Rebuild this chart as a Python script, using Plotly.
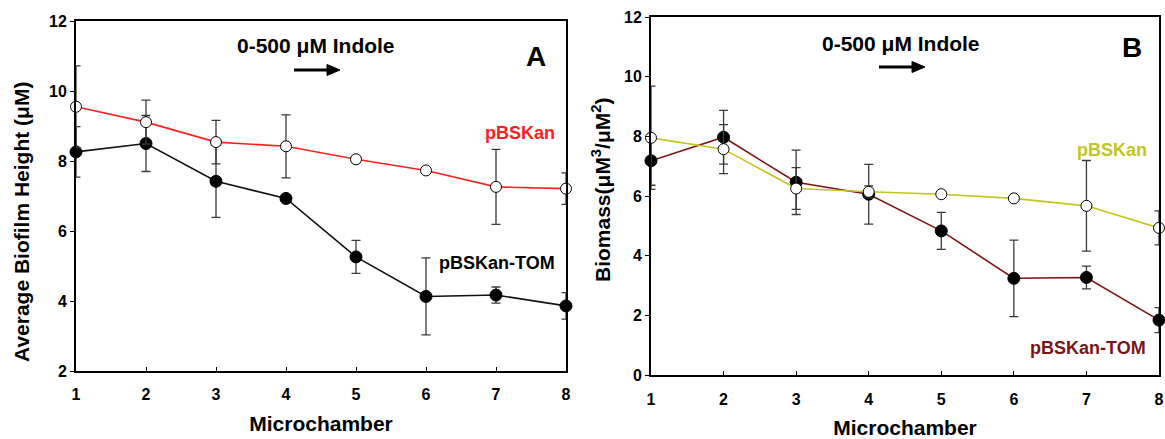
import plotly.graph_objects as go

W, H = 1165, 439

# ---------------- data ----------------
chambers = [1, 2, 3, 4, 5, 6, 7, 8]

# Panel A: average biofilm height (uM)
a_pbskan = [9.55, 9.11, 8.54, 8.42, 8.05, 7.73, 7.26, 7.21]
a_pbskan_err = [1.17, 0.63, 0.62, 0.90, 0.08, 0.08, 1.07, 0.45]
a_tom = [8.26, 8.50, 7.42, 6.93, 5.26, 4.13, 4.17, 3.86]
a_tom_err = [0.72, 0.80, 1.03, 0.08, 0.47, 1.10, 0.23, 0.38]

# Panel B: biomass (uM^3/uM^2)
b_pbskan = [7.95, 7.57, 6.25, 6.14, 6.06, 5.92, 5.67, 4.93]
b_pbskan_err = [1.73, 0.82, 0.70, 0.20, 0.08, 0.08, 1.52, 0.57]
b_tom = [7.18, 7.97, 6.46, 6.06, 4.83, 3.24, 3.27, 1.84]
b_tom_err = [0.82, 0.90, 1.08, 1.00, 0.62, 1.28, 0.38, 0.42]

a_yticks = [2, 4, 6, 8, 10, 12]
b_yticks = [0, 2, 4, 6, 8, 10, 12]

FONT = "Liberation Sans, Arial, sans-serif"
ERRC = "#3a3a3a"
RED = "#ff2020"
OLIVE = "#c2c61c"
MAROON = "#7b1416"

def px(x):
    return x / W

def py(y):
    return 1 - y / H

fig = go.Figure()

def add_series(x, y, err, xa, ya, line_color, filled, size):
    fig.add_trace(go.Scatter(
        x=x, y=y, xaxis=xa, yaxis=ya, mode="lines+markers",
        line=dict(color=line_color, width=1.6),
        marker=dict(size=size, color="black" if filled else "white",
                    line=dict(color="black", width=1)),
        error_y=dict(type="data", array=err, visible=True, color=ERRC,
                     thickness=1.3, width=4.5),
        cliponaxis=False, showlegend=False, hoverinfo="x+y"))

# Panel A
add_series(chambers, a_tom, a_tom_err, "x", "y", "#111111", True, 12)
add_series(chambers, a_pbskan, a_pbskan_err, "x", "y", RED, False, 11)
# Panel B
add_series(chambers, b_tom, b_tom_err, "x2", "y2", MAROON, True, 12)
add_series(chambers, b_pbskan, b_pbskan_err, "x2", "y2", OLIVE, False, 11)

tickfont = dict(family=FONT, size=16, color="black", weight="bold")
titlefont = dict(family=FONT, size=21, color="black", weight="bold")
axis_common = dict(showline=True, linecolor="black", linewidth=2, mirror=True,
                   showgrid=False, zeroline=False, tickfont=tickfont,
                   tickcolor="black", tickwidth=1, automargin=False)

fig.update_layout(
    width=W, height=H, margin=dict(l=0, r=0, t=0, b=0),
    paper_bgcolor="white", plot_bgcolor="white",
    xaxis=dict(domain=[px(76), px(566)], range=[1, 8], tickvals=chambers,
               ticks="inside", ticklen=4, anchor="y", ticklabelstandoff=8,
               title=dict(text="Microchamber", font=titlefont, standoff=14),
               **axis_common),
    yaxis=dict(domain=[py(371), py(21)], range=[2, 12], tickvals=a_yticks,
               ticks="outside", ticklen=4, anchor="x", **axis_common),
    xaxis2=dict(domain=[px(651), px(1159)], range=[1, 8], tickvals=chambers,
                ticks="inside", ticklen=4, anchor="y2", ticklabelstandoff=9,
                title=dict(text="Microchamber", font=titlefont, standoff=15),
                **axis_common),
    yaxis2=dict(domain=[py(375), py(17)], range=[0, 12], tickvals=b_yticks,
                ticks="outside", ticklen=4, anchor="x2", **axis_common),
)

def text(x, y, s, size, color="black", angle=0):
    fig.add_annotation(x=px(x), y=py(y), xref="paper", yref="paper", text=s,
                       showarrow=False, textangle=angle,
                       xanchor="center", yanchor="middle",
                       font=dict(family=FONT, size=size, color=color, weight="bold"))

def arrow(x0, xbase, xtip, y, half=5.5):
    fig.add_shape(type="line", xref="paper", yref="paper",
                  x0=px(x0), x1=px(xbase + 1), y0=py(y), y1=py(y),
                  line=dict(color="black", width=3))
    path = (f"M {px(xbase)},{py(y - half)} L {px(xtip)},{py(y)} "
            f"L {px(xbase)},{py(y + half)} Z")
    fig.add_shape(type="path", xref="paper", yref="paper", path=path,
                  fillcolor="black", line=dict(color="black", width=1))

# Panel A texts
text(21, 222, "Average Biofilm Height (\u03bcM)", 21, angle=-90)
text(316, 45, "0-500 \u03bcM Indole", 21)
arrow(294, 327, 340, 70)
text(536, 57, "A", 28)
text(520, 133, "pBSKan", 18, RED)
text(497, 263, "pBSKan-TOM", 18, "black")

# Panel B texts
text(601, 190, "Biomass(\u03bcM<sup>3</sup>/\u03bcM<sup>2</sup>)", 21, angle=-90)
text(901, 43, "0-500 \u03bcM Indole", 21)
arrow(879, 912, 925, 67)
text(1132, 47, "B", 28)
text(1112, 150, "pBSKan", 18, OLIVE)
text(1088, 348, "pBSKan-TOM", 18, MAROON)

fig.write_html("out.html")
